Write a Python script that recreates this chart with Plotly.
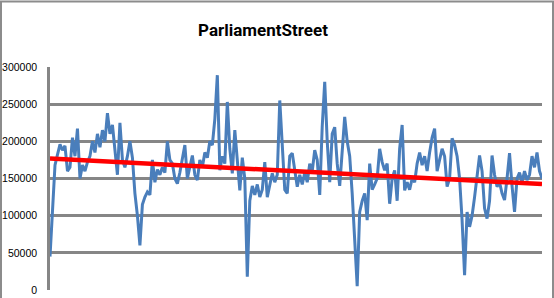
import plotly.graph_objects as go

title_text = "ParliamentStreet"
y_ticks = [0, 50000, 100000, 150000, 200000, 250000, 300000]
y_tick_labels = ["0", "50000", "100000", "150000", "200000", "250000", "300000"]

# daily flow values (thousands)
flow_k = [
    45, 105, 168, 182, 196, 188, 194, 160, 165, 205,
    180, 217, 150, 168, 160, 172, 180, 200, 185, 210,
    192, 215, 200, 238, 210, 222, 190, 155, 225, 175,
    165, 180, 200, 178, 130, 100, 60, 115, 125, 132,
    128, 175, 145, 162, 155, 165, 158, 200, 175, 170,
    150, 143, 158, 175, 195, 150, 165, 181, 155, 148,
    175, 165, 185, 178, 200, 195, 230, 289, 161, 180,
    170, 253, 190, 157, 215, 175, 134, 178, 150, 18,
    120, 140, 128, 142, 125, 135, 172, 125, 140, 157,
    145, 155, 255, 200, 135, 130, 180, 184, 160, 139,
    155, 142, 158, 145, 170, 160, 188, 175, 128, 220,
    280, 200, 145, 210, 219, 170, 140, 190, 233, 200,
    180, 130, 63, 5, 105, 120, 130, 94, 170, 135,
    142, 150, 190, 172, 161, 170, 116, 150, 161, 120,
    190, 222, 134, 145, 135, 150, 145, 170, 185, 168,
    180, 160, 185, 205, 217, 160, 175, 190, 180, 139,
    150, 204, 195, 180, 150, 94, 20, 105, 85, 100,
    125, 150, 181, 160, 110, 96, 120, 181, 155, 139,
    145, 130, 121, 150, 184, 140, 105, 150, 158, 145,
    160, 148, 155, 180, 165, 185, 160, 150,
]
trend_ends = [177000, 142500]

flow = [v * 1000 for v in flow_k]
days = list(range(len(flow)))
last = days[-1]

fig = go.Figure()
fig.add_trace(go.Scatter(
    x=days, y=flow, mode="lines",
    line=dict(color="#4a7ebb", width=3),
    hoverinfo="skip", showlegend=False,
))
fig.add_trace(go.Scatter(
    x=[0, last], y=trend_ends, mode="lines",
    line=dict(color="#ff0000", width=4.5),
    hoverinfo="skip", showlegend=False,
))

W = 492.0
H = 223.3
fig.add_shape(
    type="rect", xref="paper", yref="paper",
    x0=(1 - 50) / W, x1=(553 - 50) / W,
    y0=(290 - 300) / H, y1=(290 - 1) / H,
    line=dict(color="#8c8c8c", width=2), fillcolor="rgba(0,0,0,0)",
    layer="above",
)

fig.update_layout(
    width=554, height=298,
    margin=dict(l=50, r=12, t=67, b=8),
    paper_bgcolor="white", plot_bgcolor="white",
    title=dict(
        text="<b>" + title_text + "</b>", x=263 / 554, xref="container", xanchor="center",
        y=1 - 30 / 298, yanchor="middle",
        font=dict(family="Roboto", size=17, color="black"),
    ),
    xaxis=dict(
        range=[0, last], showgrid=False, showticklabels=False, ticks="",
        zeroline=False, showline=False, fixedrange=True, automargin=False,
    ),
    yaxis=dict(
        range=[0, 300000], tickvals=y_ticks, ticktext=y_tick_labels,
        showgrid=True, gridcolor="#868686", gridwidth=2.5,
        zeroline=False, showline=True, linecolor="#868686", linewidth=2.5,
        ticks="", ticklabelstandoff=8, automargin=False,
        tickfont=dict(family="Liberation Sans", size=10.5, color="black"),
    ),
)

fig.write_html("out.html")
